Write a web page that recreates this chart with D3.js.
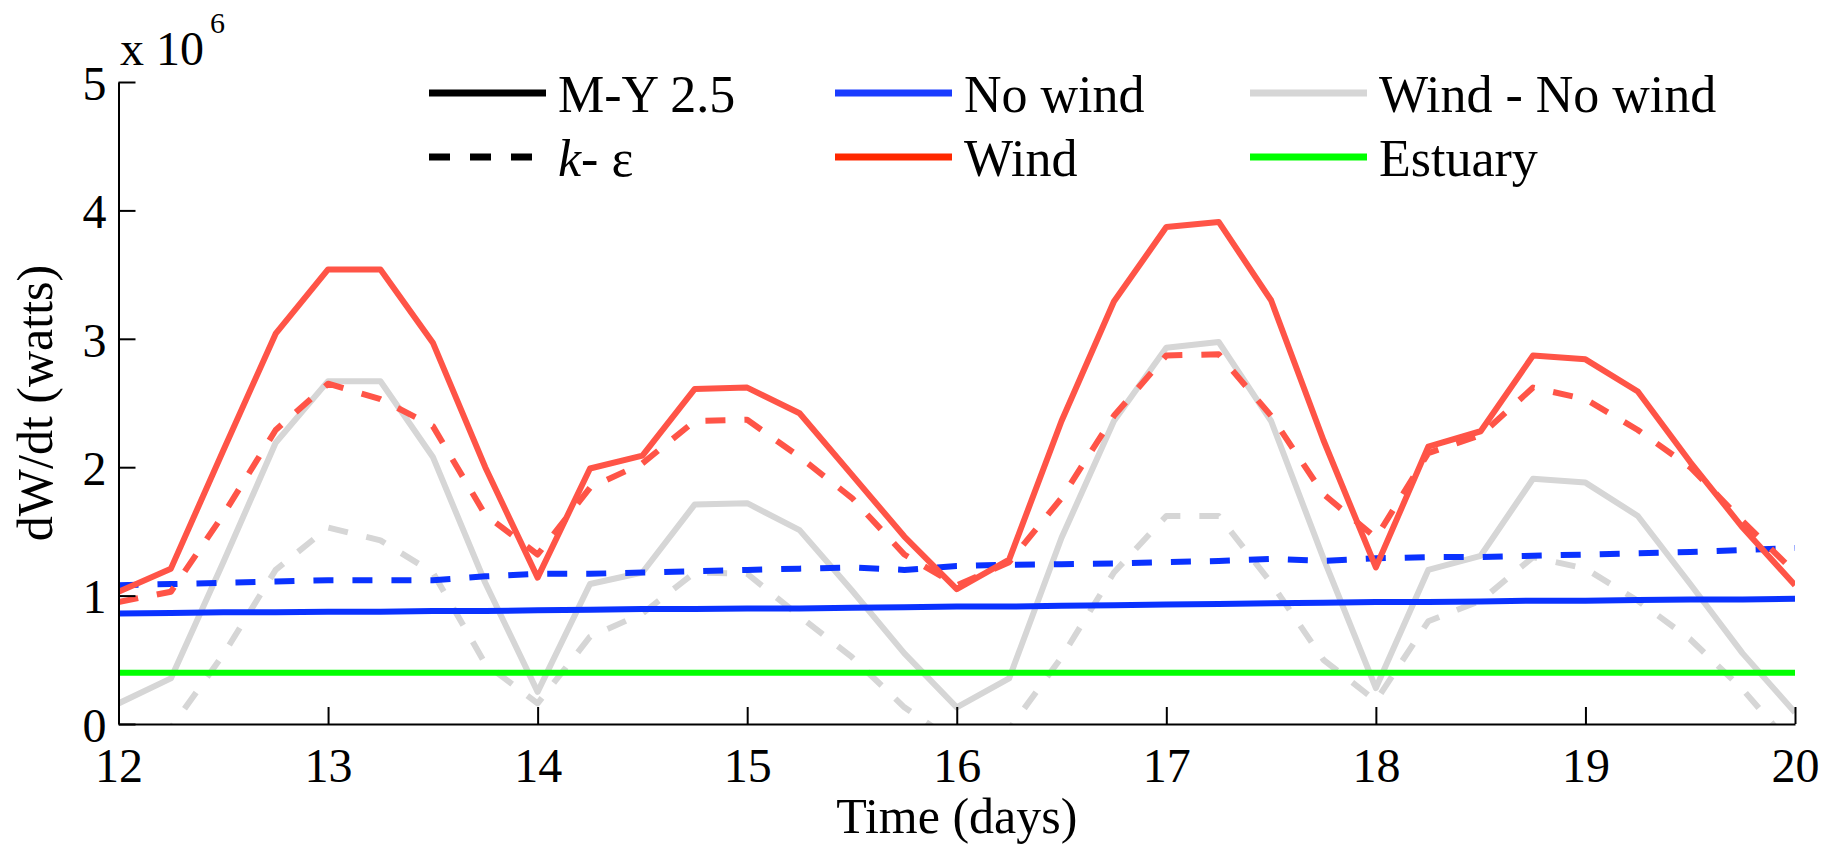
<!DOCTYPE html>
<html>
<head>
<meta charset="utf-8">
<script src="https://cdn.jsdelivr.net/npm/d3@7"></script>
<style>
  html, body { margin: 0; padding: 0; background: #fff; }
  svg { display: block; }
  text { font-family: "Liberation Serif", "Times New Roman", serif; fill: #000; }
</style>
</head>
<body>
<div id="chart"></div>
<script>
// Time axis (days), one sample every quarter day
const days = [12, 12.25, 12.5, 12.75, 13, 13.25, 13.5, 13.75, 14, 14.25, 14.5, 14.75,
  15, 15.25, 15.5, 15.75, 16, 16.25, 16.5, 16.75, 17, 17.25, 17.5, 17.75,
  18, 18.25, 18.5, 18.75, 19, 19.25, 19.5, 19.75, 20];

// dW/dt in units of 1e6 watts
const windMY = [1.03, 1.21, 2.13, 3.04, 3.54, 3.54, 2.97, 2.00, 1.14, 1.99, 2.09, 2.61,
  2.62, 2.42, 1.94, 1.46, 1.05, 1.28, 2.36, 3.29, 3.87, 3.91, 3.30, 2.21,
  1.22, 2.16, 2.28, 2.87, 2.84, 2.59, 2.04, 1.53, 1.08];
const windKE = [0.95, 1.03, 1.63, 2.29, 2.65, 2.53, 2.32, 1.63, 1.32, 1.84, 2.03, 2.36,
  2.37, 2.08, 1.76, 1.32, 1.08, 1.26, 1.76, 2.40, 2.87, 2.88, 2.40, 1.79,
  1.45, 2.11, 2.25, 2.62, 2.53, 2.29, 2.00, 1.58, 1.18];
const noWindMY = [0.86, 0.865, 0.87, 0.87, 0.875, 0.875, 0.88, 0.88, 0.885, 0.89, 0.895, 0.895,
  0.90, 0.90, 0.905, 0.91, 0.915, 0.915, 0.92, 0.925, 0.93, 0.935, 0.94, 0.945,
  0.95, 0.95, 0.955, 0.96, 0.96, 0.965, 0.97, 0.97, 0.975];
const noWindKE = [1.08, 1.09, 1.10, 1.11, 1.12, 1.12, 1.12, 1.15, 1.17, 1.17, 1.18, 1.19,
  1.20, 1.21, 1.22, 1.20, 1.23, 1.24, 1.245, 1.25, 1.26, 1.27, 1.285, 1.27,
  1.29, 1.30, 1.30, 1.31, 1.32, 1.33, 1.34, 1.355, 1.37];
const diffMY = [0.16, 0.355, 1.26, 2.19, 2.67, 2.67, 2.08, 1.10, 0.25, 1.09, 1.18, 1.71,
  1.72, 1.51, 1.04, 0.55, 0.13, 0.355, 1.45, 2.36, 2.93, 2.975, 2.36, 1.29,
  0.28, 1.20, 1.31, 1.91, 1.88, 1.62, 1.09, 0.55, 0.09];
const diffKE = [-0.15, -0.03, 0.54, 1.20, 1.53, 1.43, 1.18, 0.47, 0.16, 0.68, 0.86, 1.18,
  1.17, 0.84, 0.52, 0.13, -0.15, -0.04, 0.52, 1.18, 1.62, 1.62, 1.10, 0.50,
  0.18, 0.80, 0.96, 1.30, 1.21, 0.96, 0.66, 0.27, -0.20];
const estuary = [0.4, 0.4, 0.4, 0.4, 0.4, 0.4, 0.4, 0.4, 0.4, 0.4, 0.4, 0.4,
  0.4, 0.4, 0.4, 0.4, 0.4, 0.4, 0.4, 0.4, 0.4, 0.4, 0.4, 0.4,
  0.4, 0.4, 0.4, 0.4, 0.4, 0.4, 0.4, 0.4, 0.4];

const xTicks = [12, 13, 14, 15, 16, 17, 18, 19, 20];
const yTicks = [0, 1, 2, 3, 4, 5];

const RED = '#ff5447', BLUE = '#0a32ff', GRAY = '#d6d6d6', GREEN = '#00ff00';
const DASH = '20,19';

// drawing order: first is at the bottom
const series = [
  { values: diffMY, color: GRAY, dash: null },
  { values: diffKE, color: GRAY, dash: DASH },
  { values: estuary, color: GREEN, dash: null },
  { values: noWindMY, color: BLUE, dash: null },
  { values: noWindKE, color: BLUE, dash: DASH },
  { values: windMY, color: RED, dash: null },
  { values: windKE, color: RED, dash: DASH }
];

const W = 1843, H = 846;
const plot = { left: 118.5, right: 1795, top: 82, bottom: 724 };

const svg = d3.select('#chart')
  .append('svg')
  .attr('width', W)
  .attr('height', H);

svg.append('rect').attr('width', W).attr('height', H).attr('fill', '#fff');

const x = d3.scaleLinear().domain([12, 20]).range([plot.left, plot.right]);
const y = d3.scaleLinear().domain([0, 5]).range([plot.bottom, plot.top]);

svg.append('defs').append('clipPath')
  .attr('id', 'plot-clip')
  .append('rect')
  .attr('x', plot.left)
  .attr('y', plot.top)
  .attr('width', plot.right - plot.left)
  .attr('height', plot.bottom - plot.top);

// Lines
const line = d3.line()
  .x((d, i) => x(days[i]))
  .y(d => y(d));

const lines = svg.append('g').attr('clip-path', 'url(#plot-clip)');
series.forEach(s => {
  lines.append('path')
    .datum(s.values)
    .attr('d', line)
    .attr('fill', 'none')
    .attr('stroke', s.color)
    .attr('stroke-width', 6)
    .attr('stroke-linejoin', 'round')
    .attr('stroke-dasharray', s.dash);
});

// X axis, ticks pointing inward
const xAxis = svg.append('g')
  .attr('transform', `translate(0,${plot.bottom})`)
  .call(d3.axisBottom(x).tickValues(xTicks).tickFormat(d3.format('d'))
    .tickSizeInner(-17).tickSizeOuter(0).tickPadding(24));
xAxis.selectAll('text').style('font-size', '48px');

// Y axis
const yAxis = svg.append('g')
  .attr('transform', `translate(${plot.left},0)`)
  .call(d3.axisLeft(y).tickValues(yTicks).tickFormat(d3.format('d'))
    .tickSizeInner(-17).tickSizeOuter(0).tickPadding(12));
yAxis.selectAll('text').style('font-size', '48px').attr('dy', '0.36em');

svg.selectAll('.domain, .tick line')
  .attr('stroke', '#000')
  .attr('stroke-width', 2);
svg.selectAll('.tick text').style('font-family', '"Liberation Serif", serif').attr('fill', '#000');

// Exponent label
const expo = svg.append('text')
  .attr('x', 120)
  .attr('y', 65)
  .style('font-size', '48px');
expo.append('tspan').text('x 10');
expo.append('tspan').attr('dx', 6).attr('dy', -32).style('font-size', '30px').text('6');

// Axis labels
svg.append('text')
  .attr('x', (plot.left + plot.right) / 2)
  .attr('y', 833)
  .attr('text-anchor', 'middle')
  .style('font-size', '50px')
  .text('Time (days)');

svg.append('text')
  .attr('transform', `translate(52,${(plot.top + plot.bottom) / 2}) rotate(-90)`)
  .attr('text-anchor', 'middle')
  .style('font-size', '50px')
  .text('dW/dt (watts)');

// Legend
const legendItems = [
  { x: 429, y: 93, color: '#000', dash: null, label: ['M-Y 2.5'] },
  { x: 429, y: 157, color: '#000', dash: '21,20', label: ['k', '- ε'] },
  { x: 835, y: 93, color: '#1a3cff', dash: null, label: ['No wind'] },
  { x: 835, y: 157, color: '#ff2800', dash: null, label: ['Wind'] },
  { x: 1250, y: 93, color: GRAY, dash: null, label: ['Wind - No wind'] },
  { x: 1250, y: 157, color: GREEN, dash: null, label: ['Estuary'] }
];

const legend = svg.append('g');
legendItems.forEach(item => {
  legend.append('line')
    .attr('x1', item.x)
    .attr('x2', item.x + 117)
    .attr('y1', item.y)
    .attr('y2', item.y)
    .attr('stroke', item.color)
    .attr('stroke-width', 7)
    .attr('stroke-dasharray', item.dash);
  const t = legend.append('text')
    .attr('x', item.x + 129)
    .attr('y', item.y + 19)
    .style('font-size', '52px');
  if (item.label.length === 2) {
    t.append('tspan').style('font-style', 'italic').text(item.label[0]);
    t.append('tspan').text(item.label[1]);
  } else {
    t.text(item.label[0]);
  }
});
</script>
</body>
</html>
